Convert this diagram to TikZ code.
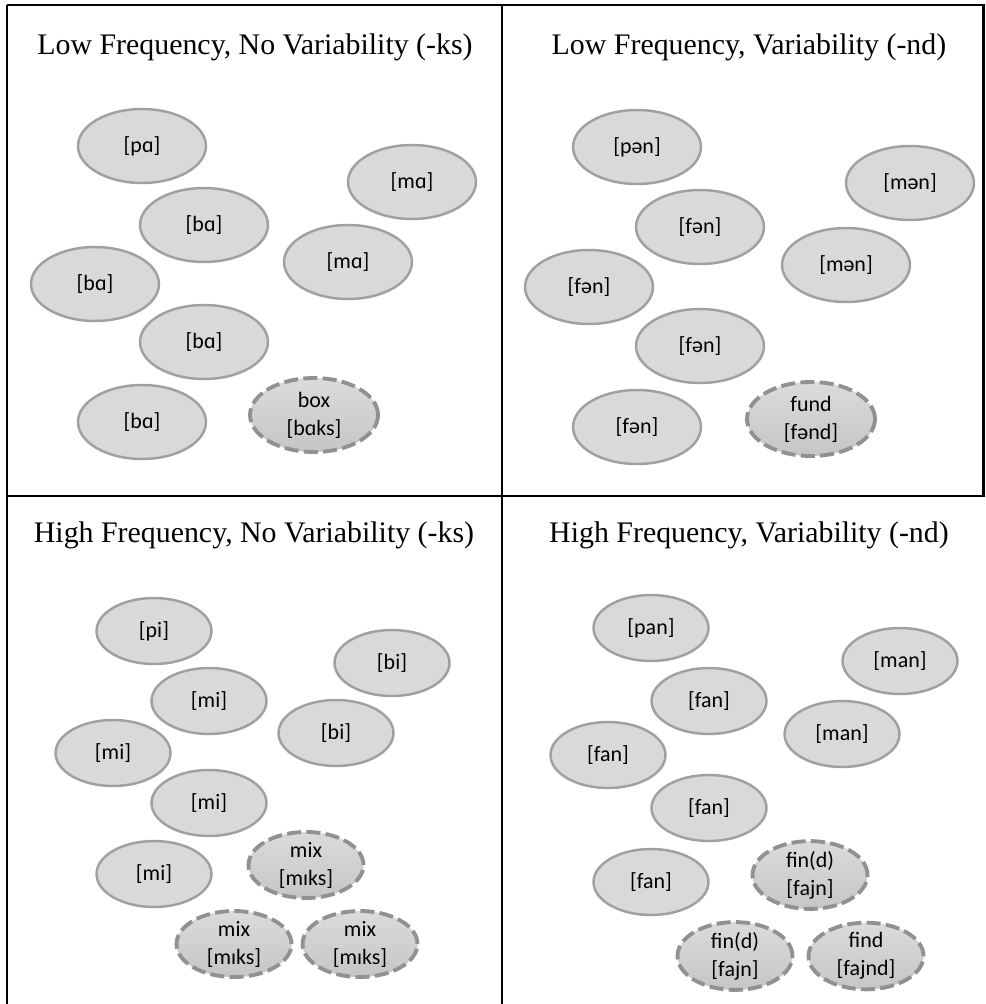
\documentclass[tikz,border=0pt]{standalone}
\usepackage{fontspec}
\usepackage{xcolor}
\setmainfont{Liberation Serif}
\newfontfamily\ipafont{Carlito}
\usetikzlibrary{shapes.geometric}
\definecolor{cellgray}{RGB}{217,217,217}
\definecolor{rimgray}{RGB}{160,160,160}
\definecolor{dashgray}{RGB}{145,145,145}

\begin{document}
\begin{tikzpicture}[x=0.02cm,y=-0.02cm,
		word/.style={ellipse,draw=rimgray,line width=1.4pt,fill=cellgray,inner sep=0pt,
			font=\ipafont\fontsize{12.5}{16}\selectfont,align=center},
		bigword/.style={word,minimum width=2.56cm,minimum height=1.48cm},
		smallword/.style={word,minimum width=2.3cm,minimum height=1.32cm},
		target/.style={draw=dashgray,line width=2.2pt,dash pattern=on 8pt off 3pt,
			top color=cellgray!95!white,bottom color=gray!45},
		heading/.style={font=\fontsize{17}{20}\selectfont}]
	\useasboundingbox (0,0) rectangle (985,1004);
	% table frame
	\draw[line width=1.7pt] (7,5) -- (985,5);
	\draw[line width=1.7pt] (7,5) -- (7,1004);
	\draw[line width=1.7pt] (502,5) -- (502,1004);
	\draw[line width=1.7pt] (983,5) -- (983,496);
	\draw[line width=1.7pt] (7,496) -- (515,496);
	\draw[line width=1.1pt] (515,496) -- (985,496);

	% low frequency, no variability
	\node[heading] (tltitle) at (255,47) {Low Frequency, No Variability (-ks)};
	\node[bigword] (tlpa) at (142,146) {[pɑ]};
	\node[bigword] (tlma1) at (412,182) {[mɑ]};
	\node[bigword] (tlba1) at (204,225) {[bɑ]};
	\node[bigword] (tlma2) at (348,262) {[mɑ]};
	\node[bigword] (tlba2) at (95,284) {[bɑ]};
	\node[bigword] (tlba3) at (204,342) {[bɑ]};
	\node[bigword] (tlba4) at (142,422) {[bɑ]};
	\node[bigword,target] (tlbox) at (314,415) {box\\{}[bɑks]};

	% low frequency, variability
	\node[heading] (trtitle) at (749,47) {Low Frequency, Variability (-nd)};
	\node[bigword] (trpan) at (637,147) {[pən]};
	\node[bigword] (trman1) at (910,183) {[mən]};
	\node[bigword] (trfan1) at (700,227) {[fən]};
	\node[bigword] (trman2) at (846,265) {[mən]};
	\node[bigword] (trfan2) at (589,287) {[fən]};
	\node[bigword] (trfan3) at (700,346) {[fən]};
	\node[bigword] (trfan4) at (637,427) {[fən]};
	\node[bigword,target] (trfund) at (811,419) {fund\\{}[fənd]};

	% high frequency, no variability
	\node[heading] (bltitle) at (254,535) {High Frequency, No Variability (-ks)};
	\node[smallword] (blpi) at (154,631) {[pi]};
	\node[smallword] (blbi1) at (392,663) {[bi]};
	\node[smallword] (blmi1) at (209,701) {[mi]};
	\node[smallword] (blbi2) at (336,733) {[bi]};
	\node[smallword] (blmi2) at (113,753) {[mi]};
	\node[smallword] (blmi3) at (209,803) {[mi]};
	\node[smallword] (blmi4) at (154,874) {[mi]};
	\node[smallword,target] (blmix1) at (306,865) {mix\\{}[mɪks]};
	\node[smallword,target] (blmix2) at (234,944) {mix\\{}[mɪks]};
	\node[smallword,target] (blmix3) at (360,944) {mix\\{}[mɪks]};

	% high frequency, variability
	\node[heading] (brtitle) at (749,535) {High Frequency, Variability (-nd)};
	\node[smallword] (brpan) at (651,628) {[pan]};
	\node[smallword] (brman1) at (900,661) {[man]};
	\node[smallword] (brfan1) at (709,701) {[fan]};
	\node[smallword] (brman2) at (842,734) {[man]};
	\node[smallword] (brfan2) at (608,755) {[fan]};
	\node[smallword] (brfan3) at (709,808) {[fan]};
	\node[smallword] (brfan4) at (651,882) {[fan]};
	\node[smallword,target] (brfind1) at (810,875) {fin(d)\\{}[fajn]};
	\node[smallword,target] (brfind2) at (735,956) {fin(d)\\{}[fajn]};
	\node[smallword,target] (brfind3) at (866,956) {find\\{}[fajnd]};
\end{tikzpicture}
\end{document}
